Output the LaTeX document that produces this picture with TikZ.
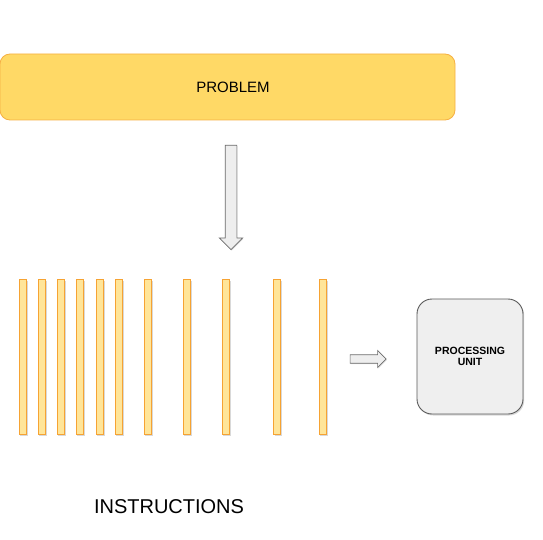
\documentclass[tikz,border=0pt]{standalone}
\usepackage{fontspec}
\setmainfont{Liberation Sans}
\usetikzlibrary{shapes,arrows,shadows}
\definecolor{probfill}{HTML}{FFD966}
\definecolor{probline}{HTML}{F6B042}
\definecolor{barfill}{HTML}{FFE599}
\definecolor{barline}{HTML}{F6A333}
\definecolor{unitfill}{HTML}{EFEFEF}
\definecolor{unitline}{HTML}{595959}
\definecolor{arrowfill}{HTML}{EEEEEE}
\definecolor{arrowline}{HTML}{6B6B6B}
\tikzstyle{problem} = [rectangle, draw=probline, fill=probfill, line width=0.8pt,
    rounded corners=10pt, minimum width=455pt, minimum height=66pt, inner sep=0pt]
\tikzstyle{caption} = [font=\fontsize{15}{18}\selectfont]
\tikzstyle{instr} = [rectangle, draw=barline, fill=barfill, line width=1pt,
    minimum width=7.3pt, minimum height=155pt, inner sep=0pt,
    drop shadow={shadow xshift=1.2pt, shadow yshift=-1.5pt, opacity=0.3}]
\tikzstyle{unit} = [rectangle, draw=unitline, fill=unitfill, line width=0.9pt,
    rounded corners=15pt, minimum width=106pt, minimum height=115pt,
    text width=95pt, align=center, font=\bfseries\fontsize{10.5}{11.7}\selectfont,
    drop shadow={shadow xshift=1.2pt, shadow yshift=-1.5pt, opacity=0.3}]
\tikzstyle{bigarrow} = [single arrow, draw=arrowline, fill=arrowfill, line width=0.7pt,
    single arrow head indent=0pt,
    drop shadow={shadow xshift=0.8pt, shadow yshift=-1pt, opacity=0.25}]

\begin{document}
\begin{tikzpicture}
[x=1pt, y=-1pt]
    \useasboundingbox (0,0) rectangle (543,540);
    % Place nodes
    \node [problem] (problem) at (227.5,87) {};
    \node [caption] (problemtext) at ([xshift=5.5pt]problem.center) {PROBLEM};

    \node [instr] (bar1) at (22.7,356.5) {};
    \node [instr] (bar2) at (41.7,356.5) {};
    \node [instr] (bar3) at (60.7,356.5) {};
    \node [instr] (bar4) at (79.7,356.5) {};
    \node [instr] (bar5) at (99.7,356.5) {};
    \node [instr] (bar6) at (118.7,356.5) {};
    \node [instr] (bar7) at (147.7,356.5) {};
    \node [instr] (bar8) at (186.7,356.5) {};
    \node [instr] (bar9) at (225.7,356.5) {};
    \node [instr] (bar10) at (277.2,356.5) {};
    \node [instr] (bar11) at (322.7,356.5) {};

    \node [unit] (unit) at (470,356.5) {PROCESSING\\UNIT};
    \node [font=\fontsize{20}{24}\selectfont] (instructions) at (169,507) {INSTRUCTIONS};

    % Draw arrows
    \node [bigarrow, shape border rotate=270, inner sep=5.5pt, single arrow head extend=5.85pt,
        minimum height=104.4pt] (down) at (231,194.5) {};
    \node [bigarrow, inner sep=3.85pt, single arrow head extend=4.3pt,
        minimum height=36pt] (right) at (366,359) {};

\end{tikzpicture}
\end{document}
